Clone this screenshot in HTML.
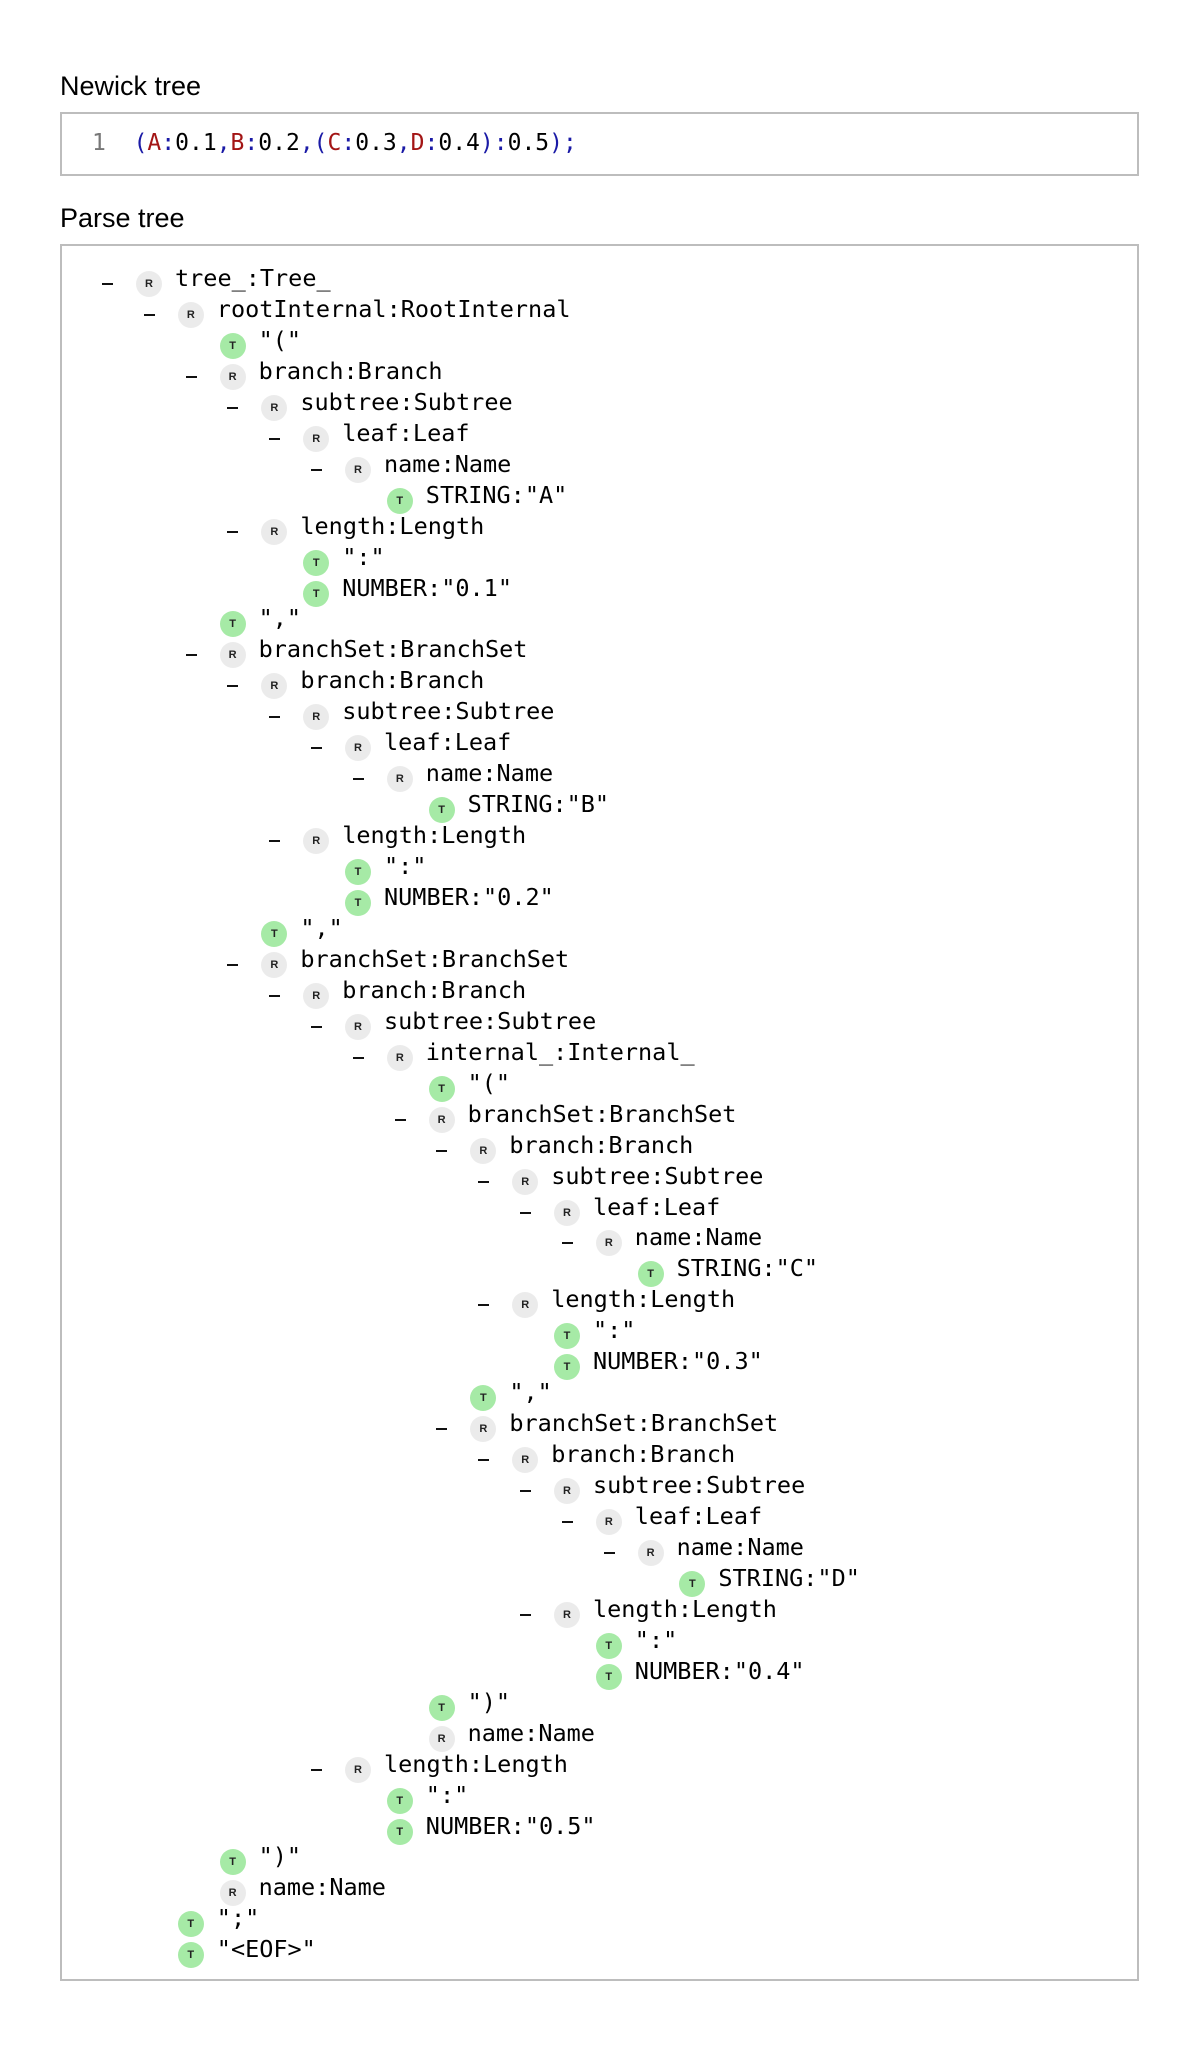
<!DOCTYPE html>
<html><head><meta charset="utf-8"><style>
body{margin:0;width:1200px;height:2050px;background:#fff;position:relative;font-family:"Liberation Sans",sans-serif;color:#000}
.h{position:absolute;left:60px;font-size:27px;line-height:32px}
.box{position:absolute;left:60px;width:1075px;border:2px solid #bdbdbd;box-sizing:content-box}
.code{font-family:"DejaVu Sans Mono","Liberation Mono",monospace;font-size:23px;position:absolute;top:128px;left:92px;white-space:pre;line-height:30px}
.ln{color:#777}.p{color:#1a1aa6}.l{color:#a31515}
.n{position:absolute;left:calc(102px + var(--d)*41.8px);top:calc(263px + var(--r)*30.95px);height:30px;line-height:30px;font-family:"DejaVu Sans Mono","Liberation Mono",monospace;font-size:23.5px;white-space:pre;padding-left:73px}
.n i{position:absolute;left:0;top:20px;width:11px;height:2px;background:#111}
.n b{position:absolute;left:34px;top:8px;width:26px;height:26px;border-radius:50%;background:#ebebeb;font:bold 11px/26px "Liberation Sans",sans-serif;text-align:center;color:#222}
.n b.t{background:#a6eaa6}
</style></head><body>
<div class="h" style="top:70px">Newick tree</div>
<div class="box" style="top:112px;height:60px"></div>
<div class="code"><span class="ln">1</span>  <span class="p">(</span><span class="l">A</span><span class="p">:</span>0.1<span class="p">,</span><span class="l">B</span><span class="p">:</span>0.2<span class="p">,(</span><span class="l">C</span><span class="p">:</span>0.3<span class="p">,</span><span class="l">D</span><span class="p">:</span>0.4<span class="p">):</span>0.5<span class="p">);</span></div>
<div class="h" style="top:202px">Parse tree</div>
<div class="box" style="top:244px;height:1733px"></div>

<div class="n" style="--d:0;--r:0"><i></i><b>R</b>tree_:Tree_</div>
<div class="n" style="--d:1;--r:1"><i></i><b>R</b>rootInternal:RootInternal</div>
<div class="n" style="--d:2;--r:2"><b class="t">T</b>"("</div>
<div class="n" style="--d:2;--r:3"><i></i><b>R</b>branch:Branch</div>
<div class="n" style="--d:3;--r:4"><i></i><b>R</b>subtree:Subtree</div>
<div class="n" style="--d:4;--r:5"><i></i><b>R</b>leaf:Leaf</div>
<div class="n" style="--d:5;--r:6"><i></i><b>R</b>name:Name</div>
<div class="n" style="--d:6;--r:7"><b class="t">T</b>STRING:"A"</div>
<div class="n" style="--d:3;--r:8"><i></i><b>R</b>length:Length</div>
<div class="n" style="--d:4;--r:9"><b class="t">T</b>":"</div>
<div class="n" style="--d:4;--r:10"><b class="t">T</b>NUMBER:"0.1"</div>
<div class="n" style="--d:2;--r:11"><b class="t">T</b>","</div>
<div class="n" style="--d:2;--r:12"><i></i><b>R</b>branchSet:BranchSet</div>
<div class="n" style="--d:3;--r:13"><i></i><b>R</b>branch:Branch</div>
<div class="n" style="--d:4;--r:14"><i></i><b>R</b>subtree:Subtree</div>
<div class="n" style="--d:5;--r:15"><i></i><b>R</b>leaf:Leaf</div>
<div class="n" style="--d:6;--r:16"><i></i><b>R</b>name:Name</div>
<div class="n" style="--d:7;--r:17"><b class="t">T</b>STRING:"B"</div>
<div class="n" style="--d:4;--r:18"><i></i><b>R</b>length:Length</div>
<div class="n" style="--d:5;--r:19"><b class="t">T</b>":"</div>
<div class="n" style="--d:5;--r:20"><b class="t">T</b>NUMBER:"0.2"</div>
<div class="n" style="--d:3;--r:21"><b class="t">T</b>","</div>
<div class="n" style="--d:3;--r:22"><i></i><b>R</b>branchSet:BranchSet</div>
<div class="n" style="--d:4;--r:23"><i></i><b>R</b>branch:Branch</div>
<div class="n" style="--d:5;--r:24"><i></i><b>R</b>subtree:Subtree</div>
<div class="n" style="--d:6;--r:25"><i></i><b>R</b>internal_:Internal_</div>
<div class="n" style="--d:7;--r:26"><b class="t">T</b>"("</div>
<div class="n" style="--d:7;--r:27"><i></i><b>R</b>branchSet:BranchSet</div>
<div class="n" style="--d:8;--r:28"><i></i><b>R</b>branch:Branch</div>
<div class="n" style="--d:9;--r:29"><i></i><b>R</b>subtree:Subtree</div>
<div class="n" style="--d:10;--r:30"><i></i><b>R</b>leaf:Leaf</div>
<div class="n" style="--d:11;--r:31"><i></i><b>R</b>name:Name</div>
<div class="n" style="--d:12;--r:32"><b class="t">T</b>STRING:"C"</div>
<div class="n" style="--d:9;--r:33"><i></i><b>R</b>length:Length</div>
<div class="n" style="--d:10;--r:34"><b class="t">T</b>":"</div>
<div class="n" style="--d:10;--r:35"><b class="t">T</b>NUMBER:"0.3"</div>
<div class="n" style="--d:8;--r:36"><b class="t">T</b>","</div>
<div class="n" style="--d:8;--r:37"><i></i><b>R</b>branchSet:BranchSet</div>
<div class="n" style="--d:9;--r:38"><i></i><b>R</b>branch:Branch</div>
<div class="n" style="--d:10;--r:39"><i></i><b>R</b>subtree:Subtree</div>
<div class="n" style="--d:11;--r:40"><i></i><b>R</b>leaf:Leaf</div>
<div class="n" style="--d:12;--r:41"><i></i><b>R</b>name:Name</div>
<div class="n" style="--d:13;--r:42"><b class="t">T</b>STRING:"D"</div>
<div class="n" style="--d:10;--r:43"><i></i><b>R</b>length:Length</div>
<div class="n" style="--d:11;--r:44"><b class="t">T</b>":"</div>
<div class="n" style="--d:11;--r:45"><b class="t">T</b>NUMBER:"0.4"</div>
<div class="n" style="--d:7;--r:46"><b class="t">T</b>")"</div>
<div class="n" style="--d:7;--r:47"><b>R</b>name:Name</div>
<div class="n" style="--d:5;--r:48"><i></i><b>R</b>length:Length</div>
<div class="n" style="--d:6;--r:49"><b class="t">T</b>":"</div>
<div class="n" style="--d:6;--r:50"><b class="t">T</b>NUMBER:"0.5"</div>
<div class="n" style="--d:2;--r:51"><b class="t">T</b>")"</div>
<div class="n" style="--d:2;--r:52"><b>R</b>name:Name</div>
<div class="n" style="--d:1;--r:53"><b class="t">T</b>";"</div>
<div class="n" style="--d:1;--r:54"><b class="t">T</b>"&lt;EOF&gt;"</div>
</body></html>
